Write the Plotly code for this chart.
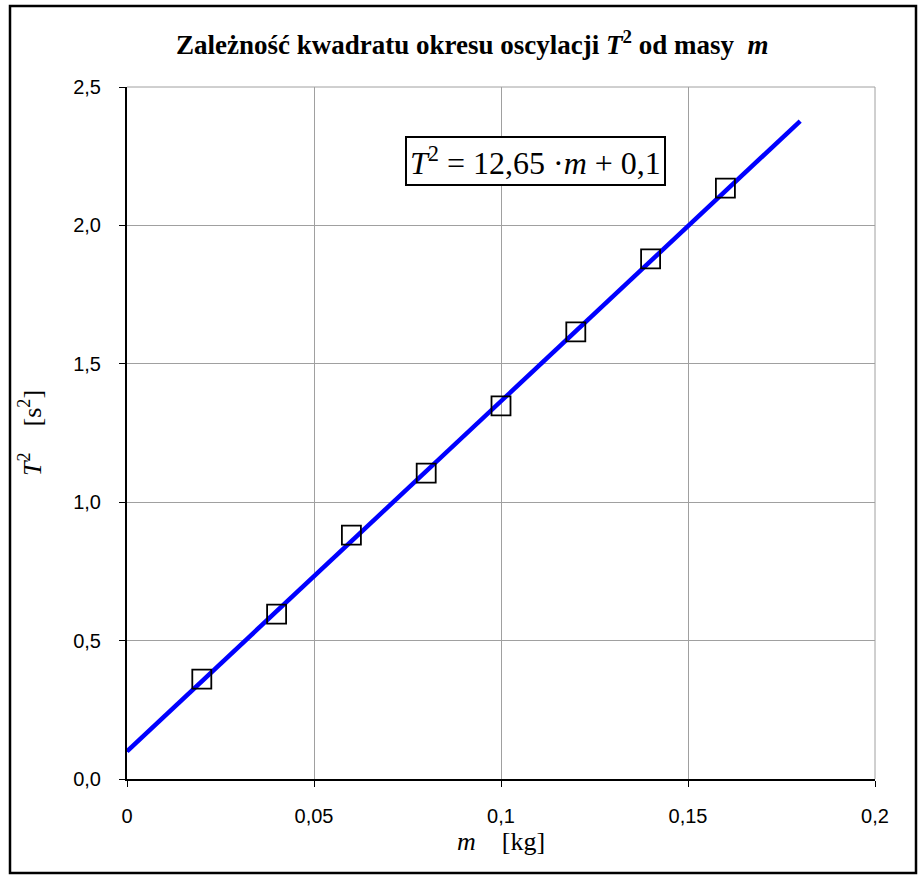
import plotly.graph_objects as go

# data
mass = [0.02, 0.04, 0.06, 0.08, 0.10, 0.12, 0.14, 0.16]
t_squared = [0.361, 0.596, 0.881, 1.105, 1.348, 1.615, 1.879, 2.135]
fit_m = [0.0, 0.18]
slope = 12.65
intercept = 0.1
fit_t2 = [slope * m + intercept for m in fit_m]

x_ticks = [0, 0.05, 0.1, 0.15, 0.2]
x_ticktext = ["0", "0,05", "0,1", "0,15", "0,2"]
y_ticks = [0.0, 0.5, 1.0, 1.5, 2.0, 2.5]
y_ticktext = ["0,0", "0,5", "1,0", "1,5", "2,0", "2,5"]

W, H = 920, 877
L, R, T, B = 127, 875, 87, 779

def px(x):
    return (x - L) / (R - L)

def py(y):
    return (B - y) / (B - T)

fig = go.Figure()
fig.add_trace(go.Scatter(x=fit_m, y=fit_t2, mode="lines",
                         line=dict(color="#0000ff", width=4.5), showlegend=False))
fig.add_trace(go.Scatter(x=mass, y=t_squared, mode="markers",
                         marker=dict(symbol="square-open", size=19, color="black",
                                     line=dict(width=1.8, color="black")),
                         showlegend=False))

serif = "Liberation Serif, Times New Roman, serif"
sans = "Liberation Sans, Arial, sans-serif"

fig.update_layout(
    width=W, height=H,
    margin=dict(l=L, r=W - R, t=T, b=H - B),
    paper_bgcolor="white", plot_bgcolor="white",
    xaxis=dict(range=[0, 0.2], tickvals=x_ticks, ticktext=x_ticktext,
               showgrid=True, gridcolor="#a0a0a0", gridwidth=1,
               showline=True, linecolor="black", linewidth=2,
               ticks="outside", ticklen=6, tickcolor="black",
               ticklabelstandoff=12,
               tickfont=dict(family=sans, size=20, color="black"),
               zeroline=False,
               title=dict(text="<i>m</i>    [kg]", font=dict(family=serif, size=26, color="black"),
                          standoff=0)),
    yaxis=dict(range=[0, 2.5], tickvals=y_ticks, ticktext=y_ticktext,
               showgrid=True, gridcolor="#a0a0a0", gridwidth=1,
               showline=True, linecolor="black", linewidth=2,
               ticks="outside", ticklen=6, tickcolor="black",
               ticklabelstandoff=14,
               tickfont=dict(family=sans, size=20, color="black"),
               zeroline=False,
               title=dict(text="<i>T</i><sup>2</sup>    [s<sup>2</sup>]",
                          font=dict(family=serif, size=26, color="black"),
                          standoff=24)),
    shapes=[
        dict(type="rect", xref="paper", yref="paper",
             x0=px(10), x1=px(916), y0=py(873), y1=py(6),
             line=dict(color="black", width=2.5), layer="below"),
        dict(type="line", xref="paper", yref="paper",
             x0=0, x1=1, y0=1, y1=1, line=dict(color="#a0a0a0", width=1)),
        dict(type="line", xref="paper", yref="paper",
             x0=1, x1=1, y0=0, y1=1, line=dict(color="#a0a0a0", width=1)),
    ],
    annotations=[
        dict(text="<b>Zależność kwadratu okresu oscylacji <i>T</i><sup>2</sup> od masy  <i>m</i></b>",
             xref="paper", yref="paper", x=px(472), y=py(43),
             xanchor="center", yanchor="middle", showarrow=False,
             font=dict(family=serif, size=27, color="black")),
        dict(text="<i>T</i><sup>2</sup> = 12,65 ·<i>m</i> + 0,1",
             xref="paper", yref="paper", x=px(535.5), y=py(161.5),
             xanchor="center", yanchor="middle", showarrow=False,
             font=dict(family=serif, size=32, color="black"),
             bgcolor="white", bordercolor="black", borderwidth=2, borderpad=3),
    ],
)

fig.write_html("out.html", config={"displayModeBar": False},
               post_script="document.body.style.margin='0';")
